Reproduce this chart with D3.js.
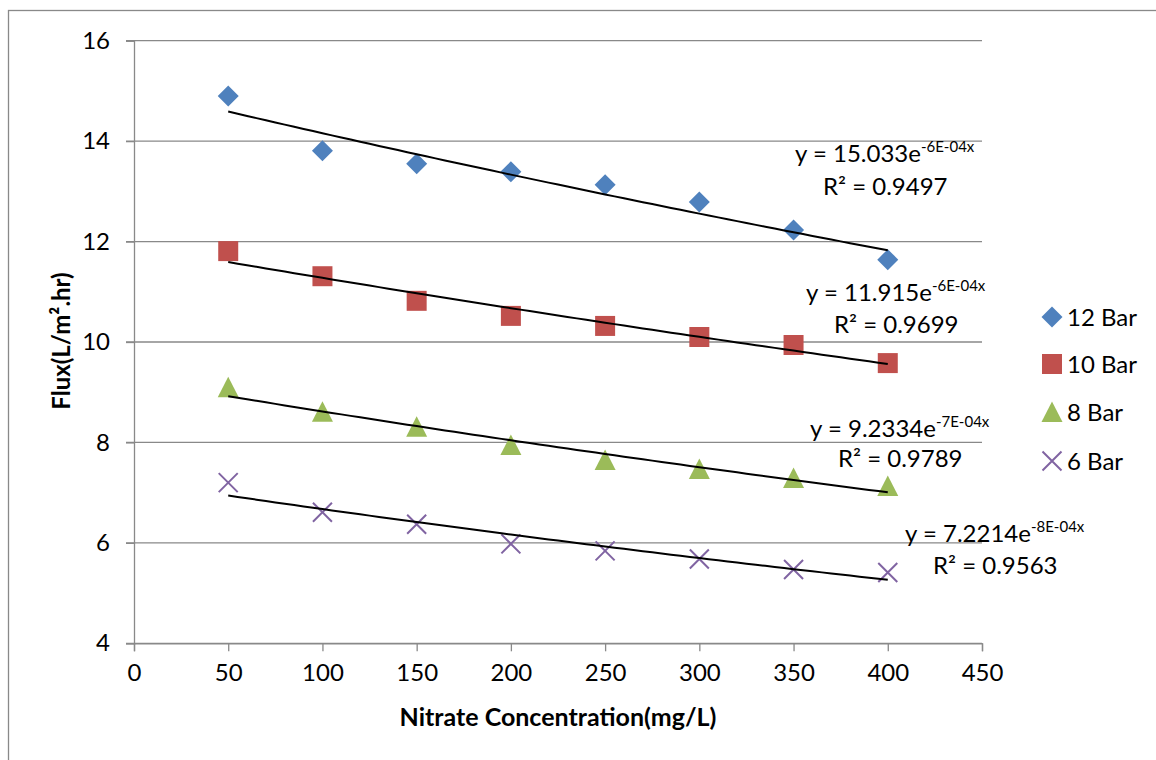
<!DOCTYPE html>
<html>
<head>
<meta charset="utf-8">
<script src="https://cdn.jsdelivr.net/npm/d3@7"></script>
<style>
  html, body { margin: 0; padding: 0; background: #fff; }
  svg { display: block; font-family: Lato, "Open Sans", sans-serif; }
</style>
</head>
<body>
<svg id="chart" width="1156" height="760"></svg>
<script>
// Nitrate concentration (mg/L) on the x axis
const concentrations = [50, 100, 150, 200, 250, 300, 350, 400];

// Permeate flux (L/m².hr) for each operating pressure
const flux12Bar = [14.90, 13.81, 13.55, 13.39, 13.13, 12.79, 12.23, 11.64];
const flux10Bar = [11.81, 11.31, 10.82, 10.52, 10.32, 10.10, 9.94, 9.58];
const flux8Bar  = [9.10, 8.61, 8.31, 7.95, 7.65, 7.47, 7.29, 7.13];
const flux6Bar  = [7.20, 6.61, 6.37, 5.98, 5.84, 5.68, 5.47, 5.41];

const seriesNames = ["12 Bar", "10 Bar", "8 Bar", "6 Bar"];

// Exponential trendlines y = a·e^(b·x)
const trendA = [15.033, 11.915, 9.2334, 7.2214];
const trendB = [-6.0e-4, -5.5e-4, -6.9e-4, -7.9e-4];
const trendExpLabel = ["-6E-04x", "-6E-04x", "-7E-04x", "-8E-04x"];
const trendR2 = ["0.9497", "0.9699", "0.9789", "0.9563"];

const xTicks = [0, 50, 100, 150, 200, 250, 300, 350, 400, 450];
const yTicks = [4, 6, 8, 10, 12, 14, 16];

const seriesValues = [flux12Bar, flux10Bar, flux8Bar, flux6Bar];
const colors = ["#4F81BD", "#C0504D", "#9BBB59", "#8064A2"];
const shapes = ["diamond", "square", "triangle", "cross"];

const svg = d3.select("#chart");
const gridColor = "#898989";
const fontSize = 24;

// outer chart frame
svg.append("rect")
  .attr("x", 8.5).attr("y", 10.5)
  .attr("width", 1300).attr("height", 900)
  .attr("fill", "none").attr("stroke", gridColor).attr("stroke-width", 1.3);

const x = d3.scaleLinear().domain([0, 450]).range([134, 982]);
const y = d3.scaleLinear().domain([4, 16]).range([643.3, 40.7]);

// horizontal gridlines
svg.append("g")
  .selectAll("line")
  .data(yTicks)
  .join("line")
  .attr("x1", x(0) - 8).attr("x2", x(450))
  .attr("y1", d => y(d)).attr("y2", d => y(d))
  .attr("stroke", gridColor).attr("stroke-width", 1.3);

// y axis
const yAxis = svg.append("g")
  .attr("transform", `translate(${x(0)},0)`)
  .call(d3.axisLeft(y).tickValues(yTicks).tickSize(8).tickPadding(16).tickFormat(d3.format("d")));
yAxis.select(".domain").attr("stroke", gridColor).attr("stroke-width", 1.3);
yAxis.selectAll(".tick line").attr("stroke", gridColor).attr("stroke-width", 1.3);
yAxis.selectAll(".tick text")
  .attr("fill", "#000").style("font-size", fontSize + "px").style("font-family", "Lato");

// x axis
const xAxis = svg.append("g")
  .attr("transform", `translate(0,${y(4)})`)
  .call(d3.axisBottom(x).tickValues(xTicks).tickSize(8).tickPadding(13).tickFormat(d3.format("d")));
xAxis.select(".domain").attr("stroke", gridColor).attr("stroke-width", 1.3);
xAxis.selectAll(".tick line").attr("stroke", gridColor).attr("stroke-width", 1.3);
xAxis.selectAll(".tick text")
  .attr("fill", "#000").style("font-size", fontSize + "px").style("font-family", "Lato");

// axis titles
svg.append("text")
  .attr("x", 558).attr("y", 726)
  .attr("text-anchor", "middle")
  .style("font-size", "25px").style("font-weight", "bold")
  .text("Nitrate Concentration(mg/L)");

svg.append("text")
  .attr("transform", "translate(70,341) rotate(-90)")
  .attr("text-anchor", "middle")
  .style("font-size", "24px").style("font-weight", "bold")
  .text("Flux(L/m².hr)");

// marker path generator, centred on (0,0)
function markerPath(shape) {
  const p = d3.path();
  if (shape === "diamond") {
    p.moveTo(0, -10.5); p.lineTo(10.5, 0); p.lineTo(0, 10.5); p.lineTo(-10.5, 0); p.closePath();
  } else if (shape === "square") {
    p.rect(-10, -10, 20, 20);
  } else if (shape === "triangle") {
    p.moveTo(0, -10.5); p.lineTo(10.5, 10); p.lineTo(-10.5, 10); p.closePath();
  } else {
    p.moveTo(-9.5, -9.5); p.lineTo(9.5, 9.5);
    p.moveTo(9.5, -9.5); p.lineTo(-9.5, 9.5);
  }
  return p.toString();
}

// data markers
seriesValues.forEach((vals, i) => {
  const pts = concentrations.map((c, k) => ({ c, v: vals[k] }));
  svg.append("g")
    .selectAll("path")
    .data(pts)
    .join("path")
    .attr("transform", d => `translate(${x(d.c)},${y(d.v)})`)
    .attr("d", markerPath(shapes[i]))
    .attr("fill", shapes[i] === "cross" ? "none" : colors[i])
    .attr("stroke", shapes[i] === "cross" ? colors[i] : "none")
    .attr("stroke-width", 2);
});

// exponential trendlines
const trendLine = d3.line().x(d => x(d[0])).y(d => y(d[1]));
seriesValues.forEach((vals, i) => {
  const xs = d3.range(concentrations[0], concentrations[concentrations.length - 1] + 1, 5);
  const pts = xs.map(c => [c, trendA[i] * Math.exp(trendB[i] * c)]);
  svg.append("path")
    .attr("d", trendLine(pts))
    .attr("fill", "none").attr("stroke", "#000").attr("stroke-width", 2);
});

// trendline equation labels
const eqPos = [
  { x: 795, y: 162, rx: 823, ry: 195 },
  { x: 806, y: 301, rx: 834, ry: 333 },
  { x: 810, y: 437, rx: 838, ry: 467 },
  { x: 905, y: 542, rx: 933, ry: 574 }
];
eqPos.forEach((p, i) => {
  const t = svg.append("text")
    .attr("x", p.x).attr("y", p.y)
    .style("font-size", fontSize + "px");
  t.append("tspan").text(`y = ${trendA[i]}e`);
  t.append("tspan")
    .attr("dy", -10)
    .style("font-size", "15px")
    .text(trendExpLabel[i]);
  svg.append("text")
    .attr("x", p.rx).attr("y", p.ry)
    .style("font-size", fontSize + "px")
    .text(`R² = ${trendR2[i]}`);
});

// legend
const legendRows = [317, 364, 412, 461];
seriesNames.forEach((name, i) => {
  svg.append("path")
    .attr("transform", `translate(1052,${legendRows[i]})`)
    .attr("d", markerPath(shapes[i]))
    .attr("fill", shapes[i] === "cross" ? "none" : colors[i])
    .attr("stroke", shapes[i] === "cross" ? colors[i] : "none")
    .attr("stroke-width", 2);
  svg.append("text")
    .attr("x", 1067).attr("y", legendRows[i])
    .attr("dy", "0.36em")
    .style("font-size", fontSize + "px")
    .text(name);
});
</script>
</body>
</html>
